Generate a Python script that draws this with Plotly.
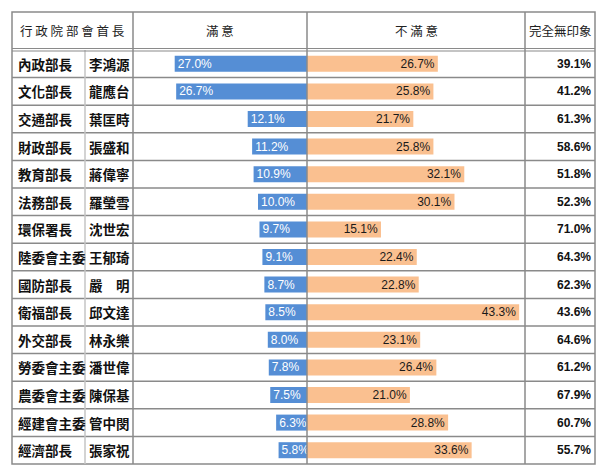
import plotly.graph_objects as go

depts = ["內政部長", "文化部長", "交通部長", "財政部長", "教育部長", "法務部長", "環保署長",
         "陸委會主委", "國防部長", "衛福部長", "外交部長", "勞委會主委", "農委會主委", "經建會主委", "經濟部長"]
names = ["李鴻源", "龍應台", "葉匡時", "張盛和", "蔣偉寧", "羅瑩雪", "沈世宏",
         "王郁琦", "嚴　明", "邱文達", "林永樂", "潘世偉", "陳保基", "管中閔", "張家祝"]
satisfied = [27.0, 26.7, 12.1, 11.2, 10.9, 10.0, 9.7, 9.1, 8.7, 8.5, 8.0, 7.8, 7.5, 6.3, 5.8]
dissatisfied = [26.7, 25.8, 21.7, 25.8, 32.1, 30.1, 15.1, 22.4, 22.8, 43.3, 23.1, 26.4, 21.0, 28.8, 33.6]
no_impression = [39.1, 41.2, 61.3, 58.6, 51.8, 52.3, 71.0, 64.3, 62.3, 43.6, 64.6, 61.2, 67.9, 60.7, 55.7]
headers = ["行 政 院 部 會 首 長", "滿 意", "不 滿 意", "完全無印象"]

W, H = 604, 471
PX_PER = 4.9
ZERO_PX = 307
TOP, HEAD, BOT = 12, 50, 464
LEFT, RIGHT = 12, 595
n = len(names)
row_h = (BOT - HEAD) / n

def px(x):
    return x / W

def py(y):
    return 1 - y / H

CJK = "Noto Sans CJK TC, Noto Sans CJK SC, sans-serif"
ARIAL = "Arial, Liberation Sans, sans-serif"

fig = go.Figure()
fig.add_trace(go.Bar(
    y=names, x=[-v for v in satisfied], orientation="h",
    marker=dict(color="#558ED5", line=dict(width=0)),
    text=[f"{v:.1f}%" for v in satisfied], textposition="inside",
    insidetextanchor="end", constraintext="none",
    textfont=dict(family=ARIAL, size=12, color="white"),
    hoverinfo="skip", showlegend=False))
fig.add_trace(go.Bar(
    y=names, x=dissatisfied, orientation="h",
    marker=dict(color="#FAC090", line=dict(width=0)),
    text=[f"{v:.1f}%" for v in dissatisfied], textposition="inside",
    insidetextanchor="end", constraintext="none",
    textfont=dict(family=ARIAL, size=12, color="#1a1a1a"),
    hoverinfo="skip", showlegend=False))

shapes = []
lc = "#8a8a8a"
shapes.append(dict(type="rect", xref="paper", yref="paper", x0=px(LEFT), x1=px(RIGHT),
                   y0=py(BOT), y1=py(TOP), line=dict(color=lc, width=1.5)))
for xv in [133, ZERO_PX, 525]:
    shapes.append(dict(type="line", xref="paper", yref="paper", x0=px(xv), x1=px(xv),
                       y0=py(BOT), y1=py(TOP), line=dict(color=lc, width=1.5)))
shapes.append(dict(type="line", xref="paper", yref="paper", x0=px(85), x1=px(85),
                   y0=py(BOT), y1=py(HEAD), line=dict(color="#c4c4c4", width=1.5)))
for yy in [HEAD - 1.5, HEAD + 1]:
    shapes.append(dict(type="line", xref="paper", yref="paper", x0=px(LEFT), x1=px(RIGHT),
                       y0=py(yy), y1=py(yy), line=dict(color=lc, width=1.2)))
for i in range(n - 1):
    shapes.append(dict(type="line", xref="paper", yref="y", x0=px(LEFT), x1=px(RIGHT),
                       y0=i + 0.5, y1=i + 0.5, line=dict(color=lc, width=1.5), layer="below"))

ann = []
head_x = [(LEFT + 133) / 2, (133 + ZERO_PX) / 2, (ZERO_PX + 525) / 2, (525 + RIGHT) / 2]
for h, hx in zip(headers, head_x):
    ann.append(dict(text=h, x=px(hx), y=py((TOP + HEAD) / 2), xref="paper", yref="paper",
                    showarrow=False, xanchor="center", yanchor="middle",
                    font=dict(family=CJK, size=12.5, color="#222")))
for d, nm, ni in zip(depts, names, no_impression):
    ann.append(dict(text=f"<b>{d}</b>", x=px(16), y=nm, xref="paper", yref="y", showarrow=False,
                    xanchor="left", yanchor="middle",
                    font=dict(family=CJK, size=13.5, color="#111")))
    ann.append(dict(text=f"<b>{nm}</b>", x=px(87), y=nm, xref="paper", yref="y", showarrow=False,
                    xanchor="left", yanchor="middle",
                    font=dict(family=CJK, size=13.5, color="#111")))
    ann.append(dict(text=f"<b>{ni:.1f}%</b>", x=px(593), y=nm, xref="paper", yref="y",
                    showarrow=False, xanchor="right", yanchor="middle",
                    font=dict(family=ARIAL, size=12, color="#111")))

y_top = -0.5 - HEAD / row_h
y_bot = n - 0.5 + (H - BOT) / row_h
fig.update_layout(
    width=W, height=H, margin=dict(l=0, r=0, t=0, b=0),
    paper_bgcolor="white", plot_bgcolor="white",
    barmode="relative", bargap=0.42,
    xaxis=dict(range=[-ZERO_PX / PX_PER, (W - ZERO_PX) / PX_PER], visible=False, fixedrange=True),
    yaxis=dict(type="category", categoryorder="array", categoryarray=names,
               range=[y_bot, y_top], visible=False, fixedrange=True),
    shapes=shapes, annotations=ann,
)
fig.write_html("out.html", config={"displayModeBar": False},
               post_script="document.body.style.margin='0';document.body.style.padding='0';")
